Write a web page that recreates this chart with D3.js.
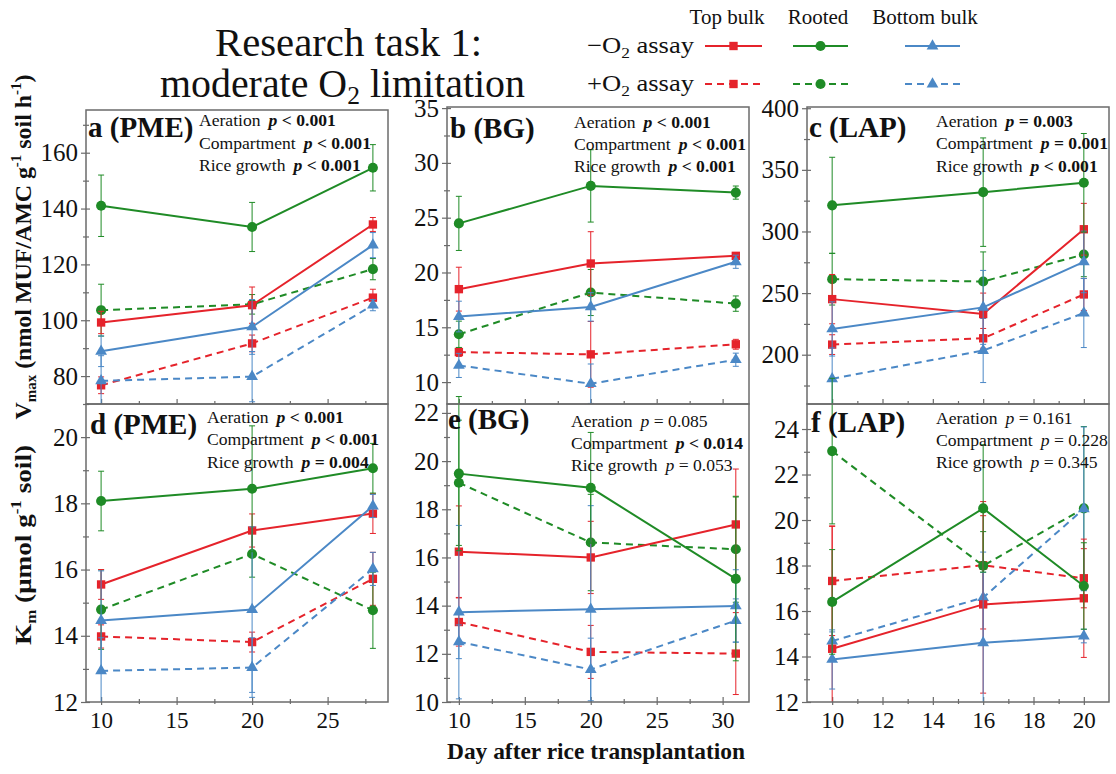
<!DOCTYPE html>
<html><head><meta charset="utf-8">
<script src="https://cdn.jsdelivr.net/npm/d3@7"></script>
<style>
body{margin:0;background:#fff}
svg{display:block}
text{font-family:"Liberation Serif","Times New Roman",serif;fill:#111}
</style>
</head><body>
<svg id="chart" width="1116" height="774"></svg>
<script>
// ---------------- DATA ----------------
const daysPME = [10, 20, 28];
const daysBG  = [10, 20, 31];
const daysLAP = [10, 16, 20];
// series order: Top bulk −O2, Rooted −O2, Bottom bulk −O2, Top bulk +O2, Rooted +O2, Bottom bulk +O2
const seriesNames = ["Top bulk −O2", "Rooted −O2", "Bottom bulk −O2", "Top bulk +O2", "Rooted +O2", "Bottom bulk +O2"];

const pmeVmaxMean = [[99.2,105.4,134.3],[141.0,133.4,154.6],[88.9,97.6,126.9],[76.7,91.7,108.1],[103.6,105.7,118.3],[78.3,79.8,105.4]];
const pmeVmaxErr  = [[4,6.5,2.5],[11,8.8,8.3],[5.5,9.8,4.5],[3,3,3],[9.3,3.5,3.8],[9,9,2]];

const bgVmaxMean = [[18.48,20.82,21.52],[24.48,27.90,27.29],[15.98,16.86,20.98],[12.74,12.53,13.45],[14.36,18.17,17.16],[11.52,9.85,12.04]];
const bgVmaxErr  = [[2.0,2.9,0.3],[2.47,3.3,0.6],[1.4,1.3,0.6],[0.4,3.0,0.45],[1.2,2.1,0.7],[1.1,1.8,0.6]];

const lapVmaxMean = [[245.1,233.0,301.8],[321.2,331.9,339.5],[220.9,238.4,275.3],[208.2,213.3,248.9],[261.3,259.4,281.3],[180.5,203.4,233.8]];
const lapVmaxErr  = [[20,17,21],[39,44,40],[22,30,25],[8,8,13],[21,24,18],[25,26,28]];

const pmeKmMean = [[15.55,17.18,17.69],[18.07,18.44,19.06],[14.46,14.79,17.92],[13.98,13.81,15.72],[14.79,16.47,14.77],[12.94,13.04,16.02]];
const pmeKmErr  = [[0.45,0.5,0.6],[0.9,1.9,0.75],[1.5,2.5,0.35],[0.35,0.3,0.8],[1.2,0.7,1.15],[1.0,0.9,0.5]];

const bgKmMean = [[16.24,16.00,17.37],[19.48,18.89,15.11],[13.73,13.85,13.99],[13.32,12.08,12.01],[19.10,16.62,16.34],[12.50,11.35,13.38]];
const bgKmErr  = [[1.9,1.5,2.3],[3.2,2.3,3.4],[3.6,4.3,1.5],[1.0,1.1,1.7],[2.6,2.0,2.2],[0.7,1.3,0.9]];

const lapKmMean = [[14.34,16.29,16.56],[16.40,20.51,17.10],[13.87,14.60,14.90],[17.32,18.01,17.44],[23.03,17.99,20.51],[14.68,16.59,20.49]];
const lapKmErr  = [[5.4,3.9,2.6],[2.3,2.8,1.9],[1.3,3.1,0.3],[2.4,2.8,1.3],[3.2,1.5,3.6],[0.4,2.0,3.6]];

const statLabels = ["Aeration", "Compartment", "Rice growth"];
const statsA = ["< 0.001", "< 0.001", "< 0.001"];
const statsB = ["< 0.001", "< 0.001", "< 0.001"];
const statsC = ["= 0.003", "= 0.001", "< 0.001"];
const statsD = ["< 0.001", "< 0.001", "= 0.004"];
const statsE = ["= 0.085", "< 0.014", "= 0.053"];
const statsF = ["= 0.161", "= 0.228", "= 0.345"];
const boldA = [true,true,true], boldB=[true,true,true], boldC=[true,true,true], boldD=[true,true,true];
const boldE = [false,true,false], boldF=[false,false,false];

const ticksPME_x = [10,15,20,25], minorPME_x = [12.5,17.5,22.5,27.5];
const ticksBG_x = [10,15,20,25,30], minorBG_x = [12.5,17.5,22.5,27.5];
const ticksLAP_x = [10,12,14,16,18,20], minorLAP_x = [11,13,15,17,19];

// ---------------- STYLE ----------------
const colors = ["#e5232b","#1f8b26","#4b88c6","#e5232b","#1f8b26","#4b88c6"];
const dashed = [false,false,false,true,true,true];
const shapes = [d3.symbolSquare, d3.symbolCircle, d3.symbolTriangle, d3.symbolSquare, d3.symbolCircle, d3.symbolTriangle];
const shapeSize = [70, 80, 60, 70, 80, 60];
const frameColor = "#6b6b6b";

const svg = d3.select("#chart");

const panels = [
  {letter:"a (PME)", x0:86, x1:388, y0:110, y1:404, days:daysPME, xDom:[9,29], xT:ticksPME_x, xM:minorPME_x, yDom:[70,175.3], yT:[80,100,120,140,160], yM:[70,90,110,130,150,170], mean:pmeVmaxMean, err:pmeVmaxErr, stats:statsA, bold:boldA, lx:88, ly:137, sx:199, sy:[126,149,171], xlab:false},
  {letter:"b (BG)", x0:447, x1:749, y0:107, y1:404, days:daysBG, xDom:[9.1,32], xT:ticksBG_x, xM:minorBG_x, yDom:[8,35.1], yT:[10,15,20,25,30,35], yM:[12.5,17.5,22.5,27.5,32.5], mean:bgVmaxMean, err:bgVmaxErr, stats:statsB, bold:boldB, lx:450, ly:138, sx:574, sy:[128,150,172], xlab:false},
  {letter:"c (LAP)", x0:807, x1:1109, y0:107, y1:404, days:daysLAP, xDom:[9,21], xT:ticksLAP_x, xM:minorLAP_x, yDom:[160,401], yT:[200,250,300,350,400], yM:[175,225,275,325,375], mean:lapVmaxMean, err:lapVmaxErr, stats:statsC, bold:boldC, lx:809, ly:137, sx:936, sy:[127,149,172], xlab:false},
  {letter:"d (PME)", x0:86, x1:388, y0:404, y1:702, days:daysPME, xDom:[9,29], xT:ticksPME_x, xM:minorPME_x, yDom:[12,21], yT:[12,14,16,18,20], yM:[13,15,17,19], mean:pmeKmMean, err:pmeKmErr, stats:statsD, bold:boldD, lx:90, ly:434, sx:207, sy:[423,445,468], xlab:true},
  {letter:"e (BG)", x0:447, x1:749, y0:404, y1:702, days:daysBG, xDom:[9.1,32], xT:ticksBG_x, xM:minorBG_x, yDom:[10,22.37], yT:[10,12,14,16,18,20,22], yM:[11,13,15,17,19,21], mean:bgKmMean, err:bgKmErr, stats:statsE, bold:boldE, lx:448, ly:429, sx:571, sy:[427,449,471], xlab:true},
  {letter:"f (LAP)", x0:807, x1:1109, y0:404, y1:702, days:daysLAP, xDom:[9,21], xT:ticksLAP_x, xM:minorLAP_x, yDom:[12,25.1], yT:[12,14,16,18,20,22,24], yM:[13,15,17,19,21,23], mean:lapKmMean, err:lapKmErr, stats:statsF, bold:boldF, lx:811, ly:432, sx:936, sy:[424,446,468], xlab:true}
];

function styleAxis(g, fs){
  g.select(".domain").remove();
  g.attr("font-family", null);
  g.selectAll(".tick line").attr("stroke", frameColor).attr("stroke-width",1.2);
  g.selectAll(".tick text").attr("font-size",fs).attr("fill","#111");
}

panels.forEach(p => {
  const x = d3.scaleLinear().domain(p.xDom).range([p.x0, p.x1]);
  const y = d3.scaleLinear().domain(p.yDom).range([p.y1, p.y0]);
  const g = svg.append("g");

  const ya = g.append("g").attr("transform",`translate(${p.x0},0)`)
    .call(d3.axisLeft(y).tickValues(p.yT).tickSize(5).tickPadding(3).tickFormat(d3.format("d")));
  styleAxis(ya, 25);
  const yin = g.append("g").attr("transform",`translate(${p.x0},0)`)
    .call(d3.axisRight(y).tickValues(p.yT).tickSize(4).tickFormat(""));
  styleAxis(yin, 0);
  const ym = g.append("g").attr("transform",`translate(${p.x0},0)`)
    .call(d3.axisLeft(y).tickValues(p.yM).tickSize(3).tickFormat(""));
  styleAxis(ym, 0);
  const ym2 = g.append("g").attr("transform",`translate(${p.x0},0)`)
    .call(d3.axisRight(y).tickValues(p.yM).tickSize(3).tickFormat(""));
  styleAxis(ym2, 0);

  const xin = g.append("g").attr("transform",`translate(0,${p.y1})`)
    .call(d3.axisTop(x).tickValues(p.xT).tickSize(5).tickFormat(""));
  styleAxis(xin, 0);
  const xm = g.append("g").attr("transform",`translate(0,${p.y1})`)
    .call(d3.axisTop(x).tickValues(p.xM).tickSize(3).tickFormat(""));
  styleAxis(xm, 0);
  if (p.xlab) {
    const xa = g.append("g").attr("transform",`translate(0,${p.y1})`)
      .call(d3.axisBottom(x).tickValues(p.xT).tickSize(3).tickPadding(7).tickFormat(d3.format("d")));
    styleAxis(xa, 23);
    const xm2 = g.append("g").attr("transform",`translate(0,${p.y1})`)
      .call(d3.axisBottom(x).tickValues(p.xM).tickSize(2).tickFormat(""));
    styleAxis(xm2, 0);
  }

  const lo = p.yDom[0];
  const order = [3,4,5,0,2,1];
  order.forEach(si => {
    const pts = p.days.map((d,i) => ({d, v:p.mean[si][i], e:p.err[si][i]}));
    const sg = g.append("g");
    sg.selectAll("line.eb").data(pts).join("line").attr("class","eb")
      .attr("x1",q=>x(q.d)).attr("x2",q=>x(q.d))
      .attr("y1",q=>y(Math.max(lo, q.v-q.e))).attr("y2",q=>y(q.v+q.e))
      .attr("stroke",colors[si]).attr("stroke-width",1);
    sg.selectAll("line.capt").data(pts).join("line").attr("class","capt")
      .attr("x1",q=>x(q.d)-3).attr("x2",q=>x(q.d)+3)
      .attr("y1",q=>y(q.v+q.e)).attr("y2",q=>y(q.v+q.e))
      .attr("stroke",colors[si]).attr("stroke-width",1);
    sg.selectAll("line.capb").data(pts.filter(q=>q.v-q.e>=lo)).join("line").attr("class","capb")
      .attr("x1",q=>x(q.d)-3).attr("x2",q=>x(q.d)+3)
      .attr("y1",q=>y(q.v-q.e)).attr("y2",q=>y(q.v-q.e))
      .attr("stroke",colors[si]).attr("stroke-width",1);
    sg.append("path").datum(pts)
      .attr("d", d3.line().x(q=>x(q.d)).y(q=>y(q.v)))
      .attr("fill","none").attr("stroke",colors[si]).attr("stroke-width",2)
      .attr("stroke-dasharray", dashed[si] ? "7,5" : null);
    sg.selectAll("path.mk").data(pts).join("path").attr("class","mk")
      .attr("transform",q=>`translate(${x(q.d)},${y(q.v)})`)
      .attr("d", d3.symbol(shapes[si], shapeSize[si]))
      .attr("fill",colors[si]);
  });

  g.append("rect").attr("x",p.x0).attr("y",p.y0).attr("width",p.x1-p.x0).attr("height",p.y1-p.y0)
    .attr("fill","none").attr("stroke",frameColor).attr("stroke-width",1.5);

  g.append("text").attr("x",p.lx).attr("y",p.ly).attr("font-size",29).attr("font-weight","bold").text(p.letter);

  statLabels.forEach((lab,i) => {
    const t = g.append("text").attr("x",p.sx).attr("y",p.sy[i]).attr("font-size",17.6);
    t.append("tspan").text(lab);
    t.append("tspan").attr("dx",8).attr("font-style","italic").attr("font-weight",p.bold[i]?"bold":"normal").text("p");
    t.append("tspan").attr("font-weight",p.bold[i]?"bold":"normal").text(" " + p.stats[i]);
  });
});

// ---------------- TITLE ----------------
svg.append("text").attr("x",215).attr("y",56).attr("font-size",39)
  .attr("textLength",267).attr("lengthAdjust","spacingAndGlyphs").text("Research task 1:");
const t2 = svg.append("text").attr("x",160).attr("y",97).attr("font-size",39)
  .attr("textLength",365).attr("lengthAdjust","spacingAndGlyphs");
t2.append("tspan").text("moderate O");
t2.append("tspan").attr("font-size",25).attr("dy",7).text("2");
t2.append("tspan").attr("dy",-7).text(" limitation");

// ---------------- LEGEND ----------------
const legendHeads = ["Top bulk","Rooted","Bottom bulk"];
const headX = [727, 818, 925];
legendHeads.forEach((h,i)=> svg.append("text").attr("x",headX[i]).attr("y",24).attr("text-anchor","middle").attr("font-size",21).text(h));
const rowY = [46, 84];
const rowSign = ["−","+"];
rowY.forEach((ry,r) => {
  const t = svg.append("text").attr("x",587).attr("y",ry+7).attr("font-size",23)
    .attr("textLength",107).attr("lengthAdjust","spacingAndGlyphs");
  t.append("tspan").text(rowSign[r] + "O");
  t.append("tspan").attr("font-size",15).attr("dy",5).text("2");
  t.append("tspan").attr("dy",-5).text(" assay");
});
const sampleX = [[705,762],[793,848],[905,960]];
for (let si=0; si<6; si++){
  const r = dashed[si] ? 1 : 0, c = si % 3;
  svg.append("line").attr("x1",sampleX[c][0]).attr("x2",sampleX[c][1]).attr("y1",rowY[r]).attr("y2",rowY[r])
    .attr("stroke",colors[si]).attr("stroke-width",2).attr("stroke-dasharray",dashed[si]?"7,5":null);
  svg.append("path").attr("transform",`translate(${(sampleX[c][0]+sampleX[c][1])/2},${rowY[r]})`)
    .attr("d", d3.symbol(shapes[si], shapeSize[si])).attr("fill",colors[si]);
}

// ---------------- AXIS TITLES ----------------
const vl = svg.append("text").attr("transform","translate(31,247) rotate(-90)").attr("text-anchor","middle")
  .attr("font-size",24).attr("font-weight","bold").attr("textLength",345).attr("lengthAdjust","spacingAndGlyphs");
vl.append("tspan").text("V");
vl.append("tspan").attr("font-size",15).attr("dy",5).text("max");
vl.append("tspan").attr("dy",-5).text(" (nmol MUF/AMC g");
vl.append("tspan").attr("font-size",15).attr("dy",-10).text("-1");
vl.append("tspan").attr("dy",10).text(" soil h");
vl.append("tspan").attr("font-size",15).attr("dy",-10).text("-1");
vl.append("tspan").attr("dy",10).text(")");

const kl = svg.append("text").attr("transform","translate(31,545) rotate(-90)").attr("text-anchor","middle")
  .attr("font-size",24).attr("font-weight","bold").attr("textLength",200).attr("lengthAdjust","spacingAndGlyphs");
kl.append("tspan").text("K");
kl.append("tspan").attr("font-size",15).attr("dy",5).text("m");
kl.append("tspan").attr("dy",-5).text(" (μmol g");
kl.append("tspan").attr("font-size",15).attr("dy",-10).text("-1");
kl.append("tspan").attr("dy",10).text(" soil)");

svg.append("text").attr("x",596).attr("y",759).attr("text-anchor","middle").attr("font-size",23).attr("font-weight","bold")
  .attr("textLength",298).attr("lengthAdjust","spacingAndGlyphs")
  .text("Day after rice transplantation");
</script>
</body></html>
